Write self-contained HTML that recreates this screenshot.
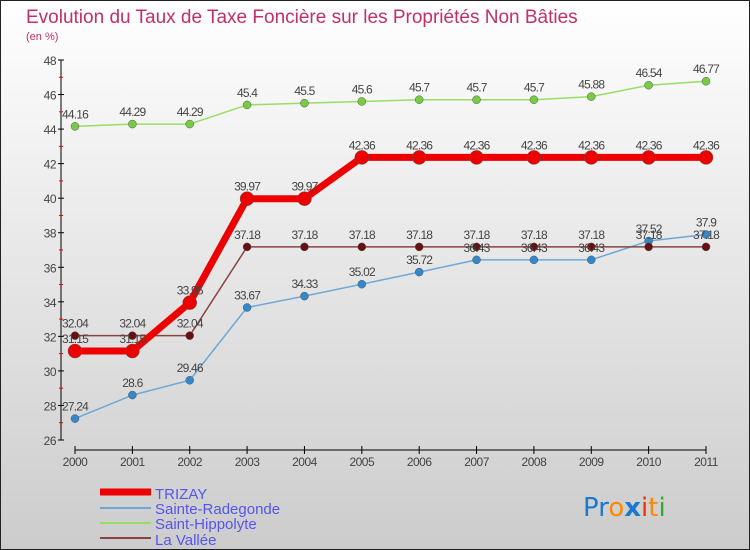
<!DOCTYPE html>
<html><head><meta charset="utf-8"><style>
body{margin:0}
svg{display:block;font-family:"Liberation Sans",sans-serif}
</style></head><body>
<svg id="c" width="750" height="550" xmlns="http://www.w3.org/2000/svg">
<defs><linearGradient id="bg" x1="0" y1="0" x2="0" y2="1"><stop offset="0" stop-color="#ffffff"/><stop offset="1" stop-color="#cccccc"/></linearGradient></defs>
<rect x="0.5" y="0.5" width="749" height="549" fill="url(#bg)" stroke="#222"/>
<text x="26" y="23" font-size="19" fill="#c0306a">Evolution du Taux de Taxe Foncière sur les Propriétés Non Bâties</text>
<text x="26" y="40" font-size="11" fill="#c0306a">(en %)</text>
<g id="axes"></g><g id="series"></g><g id="labels"></g>
<g>
<line x1="100" y1="492" x2="151" y2="492" stroke="#ee0000" stroke-width="7"/>
<text x="155" y="499" font-size="15" fill="#5555ee">TRIZAY</text>
<line x1="100" y1="508" x2="151" y2="508" stroke="#6fa8d8" stroke-width="2"/>
<text x="155" y="514" font-size="15" fill="#5555ee">Sainte-Radegonde</text>
<line x1="100" y1="523" x2="151" y2="523" stroke="#99dd66" stroke-width="2"/>
<text x="155" y="529" font-size="15" fill="#5555ee">Saint-Hippolyte</text>
<line x1="100" y1="538" x2="151" y2="538" stroke="#884444" stroke-width="2"/>
<text x="155" y="545" font-size="15" fill="#5555ee">La Vallée</text>
</g>
<text x="583" y="516" font-size="26" font-family="'DejaVu Sans',sans-serif"><tspan fill="#1a7ad0">Pr</tspan><tspan fill="#ff8800">o</tspan><tspan fill="#1a7ad0" font-weight="bold">x</tspan><tspan fill="#ee3300">i</tspan><tspan fill="#ff8800">t</tspan><tspan fill="#33aa33">i</tspan></text>
</svg>
<script>
const years=["2000","2001","2002","2003","2004","2005","2006","2007","2008","2009","2010","2011"];
const trizay=[31.15,31.15,33.95,39.97,39.97,42.36,42.36,42.36,42.36,42.36,42.36,42.36];
const radegonde=[27.24,28.6,29.46,33.67,34.33,35.02,35.72,36.43,36.43,36.43,37.52,37.9];
const hippolyte=[44.16,44.29,44.29,45.4,45.5,45.6,45.7,45.7,45.7,45.88,46.54,46.77];
const vallee=[32.04,32.04,32.04,37.18,37.18,37.18,37.18,37.18,37.18,37.18,37.18,37.18];
const yTicks=[26,28,30,32,34,36,38,40,42,44,46,48];
const NS="http://www.w3.org/2000/svg";
const yMin=26,yMax=48,plotTop=60,plotBot=440,x0=75,x1=706;
const X=i=>x0+(x1-x0)*i/(years.length-1);
const Y=v=>plotBot-(v-yMin)/(yMax-yMin)*(plotBot-plotTop);
function mk(p,t,a){const e=document.createElementNS(NS,t);for(const k in a)e.setAttribute(k,a[k]);p.appendChild(e);return e;}
const ax=document.getElementById('axes'),sg=document.getElementById('series'),lg=document.getElementById('labels');
let e=mk(ax,'line',{x1:61,y1:plotTop,x2:61,y2:plotBot,stroke:'#000','stroke-width':1});


e=mk(ax,'line',{x1:x0,y1:450,x2:x1,y2:450,stroke:'#000','stroke-width':1});


yTicks.forEach(v=>{
 mk(ax,'line',{x1:58,y1:Y(v),x2:64,y2:Y(v),stroke:'#000'});
 if(v<yMax)mk(ax,'line',{x1:59,y1:Y(v+1),x2:63,y2:Y(v+1),stroke:'#e00'});
 const t=mk(ax,'text',{x:56,y:Y(v)+5,'font-size':12,fill:'#444','text-anchor':'end','letter-spacing':'-0.5'});t.textContent=v;
 
 
});
years.forEach((yr,i)=>{
 mk(ax,'line',{x1:X(i),y1:446,x2:X(i),y2:454,stroke:'#000'});
 const t=mk(ax,'text',{x:X(i),y:466,'font-size':12,fill:'#444','text-anchor':'middle','letter-spacing':'-0.5'});t.textContent=yr;
 
 
});
function series(vals,color,w,r,name,dot){
 const pl=mk(sg,'polyline',{points:vals.map((v,i)=>X(i)+','+Y(v)).join(' '),fill:'none',stroke:color,'stroke-width':w,'stroke-linejoin':'round'});
 
 
 vals.forEach((v,i)=>{
  const c=mk(sg,'circle',{cx:X(i),cy:Y(v),r:r,fill:dot,stroke:'#555','stroke-width':0.5});
  
  
  const t=mk(lg,'text',{x:X(i),y:Y(v)-8,'font-size':12,fill:'#444','text-anchor':'middle','letter-spacing':'-0.8'});t.textContent=v;
  
  
 });
}
series(hippolyte,'#99dd66',1.5,4,'saint-hippolyte','#77cc44');
series(radegonde,'#6fa8d8',1.5,4,'sainte-radegonde','#3388cc');
series(vallee,'#884444',1.5,4,'la-vallee','#661111');
series(trizay,'#ee0000',7,7,'trizay','#ee0000');
</script>
</body></html>
